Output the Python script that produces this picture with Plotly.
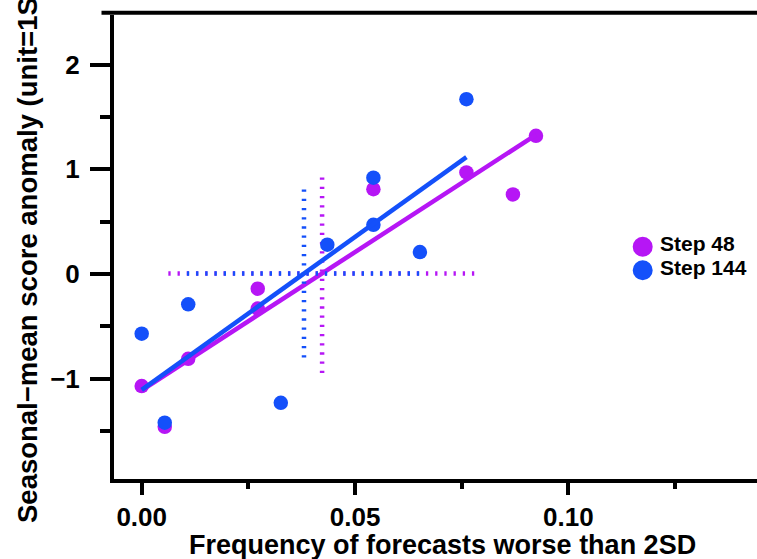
import numpy as np
import plotly.graph_objects as go

# ---- data ----
series_names = ["Step 48", "Step 144"]
series_colors = ["#B616F5", "#1450FA"]

step48_freq = [0.0, 0.0054, 0.0109, 0.0272, 0.0272, 0.0543, 0.0761, 0.0870, 0.0924]
step48_score = [-1.07, -1.46, -0.81, -0.14, -0.33, 0.81, 0.97, 0.76, 1.32]

step144_freq = [0.0, 0.0054, 0.0109, 0.0326, 0.0435, 0.0543, 0.0543, 0.0652, 0.0761]
step144_score = [-0.57, -1.42, -0.29, -1.23, 0.28, 0.92, 0.47, 0.21, 1.67]

x_ticks = [0.0, 0.05, 0.10]
y_ticks = [-1, 0, 1, 2]

x_title = "Frequency of forecasts worse than 2SD"
y_title = "Seasonal\u2212mean score anomaly (unit=1SD)"

# ---- page geometry ----
W, H = 757, 559
ML, MR, MT, MB = 114, 0, 15, 80
PW, PH = W - ML - MR, H - MT - MB


def px(xp):
    return (xp - ML) / PW


def py(yp):
    return (H - MB - yp) / PH


FONT = "Liberation Sans"
AXW = 4

fig = go.Figure()

for name, color, xs, ys in [
    (series_names[0], series_colors[0], step48_freq, step48_score),
    (series_names[1], series_colors[1], step144_freq, step144_score),
]:
    x = np.array(xs)
    y = np.array(ys)
    # points
    fig.add_trace(go.Scatter(x=x, y=y, mode="markers",
                             marker=dict(size=14.5, color=color, line=dict(width=0)),
                             showlegend=False, hoverinfo="skip"))
    # least-squares fit across the range of the data
    slope, icpt = np.polyfit(x, y, 1)
    fx = np.array([x.min(), x.max()])
    fig.add_trace(go.Scatter(x=fx, y=icpt + slope * fx, mode="lines",
                             line=dict(color=color, width=4.5),
                             showlegend=False, hoverinfo="skip"))
    # cross at the means: +/- 1 SD of frequency, and the fitted change over it
    mx, my = x.mean(), y.mean()
    sx = x.std(ddof=1)
    dash = "2.3px,6.9px"
    fig.add_trace(go.Scatter(x=[mx - sx, mx + sx], y=[my, my], mode="lines",
                             line=dict(color=color, width=4.5, dash=dash),
                             showlegend=False, hoverinfo="skip"))
    fig.add_trace(go.Scatter(x=[mx, mx], y=[my - slope * sx, my + slope * sx], mode="lines",
                             line=dict(color=color, width=4.5, dash=dash),
                             showlegend=False, hoverinfo="skip"))

# x scale: 0 at 141.7 px, 4267 px per unit; y scale: 0 at 274 px, 104.7 px per unit
x_range = [(ML - 141.7) / 4267, (W - MR - 141.7) / 4267]
y_range = [(274 - (H - MB)) / 104.7, (274 - MT) / 104.7]

tickfont = dict(family=FONT, size=26, color="black", weight="bold")

fig.update_xaxes(range=x_range, showgrid=False, zeroline=False,
                 showline=True, linecolor="black", linewidth=AXW,
                 ticks="outside", ticklen=12, tickwidth=AXW, tickcolor="black",
                 tickvals=x_ticks, tickformat=".2f", tickfont=tickfont,
                 ticklabelstandoff=0,
                 minor=dict(dtick=0.025, tick0=0, ticks="outside", ticklen=6,
                            tickwidth=AXW, tickcolor="black"),
                 automargin=False)
fig.update_yaxes(range=y_range, showgrid=False, zeroline=False,
                 showline=True, linecolor="black", linewidth=AXW,
                 ticks="outside", ticklen=20, tickwidth=AXW, tickcolor="black",
                 tickvals=y_ticks, tickfont=tickfont,
                 ticklabelstandoff=5,
                 minor=dict(dtick=0.5, tick0=0, ticks="outside", ticklen=10,
                            tickwidth=AXW, tickcolor="black"),
                 automargin=False)

shapes = []
# top frame line, with the short tick at its left end
shapes.append(dict(type="line", xref="paper", yref="paper",
                   x0=px(101.5), x1=px(W + 5), y0=py(12.7), y1=py(12.7),
                   line=dict(color="black", width=AXW)))

annotations = []
# legend
for i, (name, color) in enumerate(zip(series_names, series_colors)):
    cy = 246.7 + 23.5 * i
    shapes.append(dict(type="circle", xref="paper", yref="paper",
                       xsizemode="pixel", ysizemode="pixel",
                       xanchor=px(642.7), yanchor=py(cy),
                       x0=-10, x1=10, y0=-10, y1=10,
                       fillcolor=color, line=dict(width=0)))
    annotations.append(dict(text=name, xref="paper", yref="paper",
                            x=px(658), y=py(cy - 3), xanchor="left", yanchor="middle",
                            showarrow=False,
                            font=dict(family=FONT, size=21, color="black", weight="bold")))

# axis titles
annotations.append(dict(text=x_title, xref="paper", yref="paper",
                        x=px(442), y=py(545), xanchor="center", yanchor="middle",
                        showarrow=False,
                        font=dict(family=FONT, size=27, color="black", weight="bold")))
annotations.append(dict(text=y_title, xref="paper", yref="paper",
                        x=px(28), y=py(246), xanchor="center", yanchor="middle",
                        textangle=-90, showarrow=False,
                        font=dict(family=FONT, size=27.5, color="black", weight="bold")))

fig.update_layout(width=W, height=H,
                  margin=dict(l=ML, r=MR, t=MT, b=MB, pad=0),
                  paper_bgcolor="white", plot_bgcolor="white",
                  shapes=shapes, annotations=annotations,
                  showlegend=False)

fig.write_html("out.html")
